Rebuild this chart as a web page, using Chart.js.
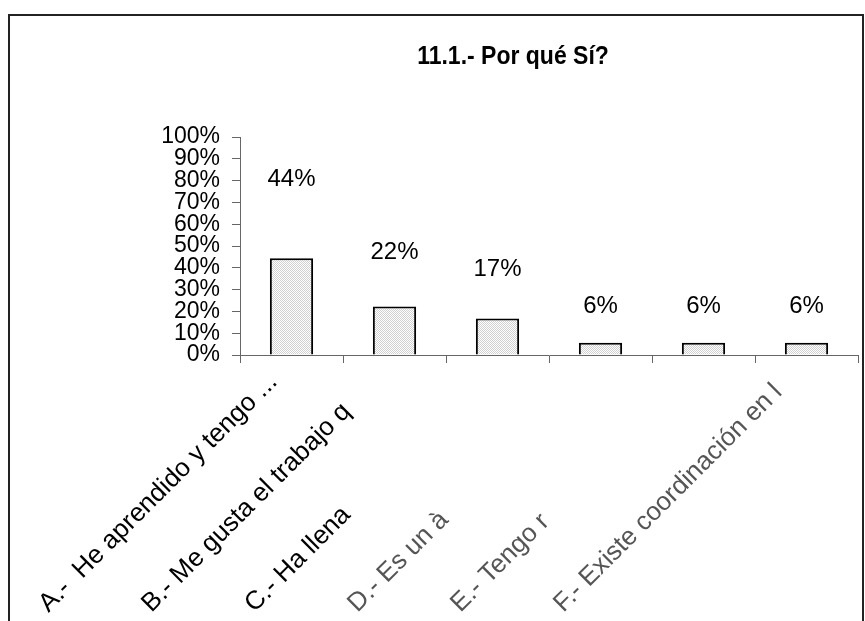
<!DOCTYPE html>
<html><head><meta charset="utf-8">
<script src="https://cdn.jsdelivr.net/npm/chart.js@4/dist/chart.umd.min.js"></script>
<style>
html,body{margin:0;padding:0;background:#fff;overflow:hidden}
#wrap{position:relative;width:865px;height:621px}
#frame{position:absolute;left:8px;top:14px;width:852px;height:700px;border:2px solid #222;}
canvas{position:absolute;left:0;top:0}
</style></head><body>
<div id="wrap"><div id="frame"></div><canvas id="c" width="865" height="621"></canvas></div>
<script>
const chartTitle = '11.1.- Por qué Sí?';
const categories = [
  'A.-  He aprendido y tengo ...',
  'B.- Me gusta el trabajo q',
  'C.- Ha llena',
  'D.- Es un à',
  'E.- Tengo r',
  'F.- Existe coordinación en l'
];
const values = [44.4, 22.2, 16.7, 5.6, 5.6, 5.6];
const valueLabels = ['44%', '22%', '17%', '6%', '6%', '6%'];
const yMin = 0, yMax = 100, yStep = 10;

const FONT = "'Liberation Sans', Arial, sans-serif";

// dotted fill pattern
const pc = document.createElement('canvas');
pc.width = 2; pc.height = 2;
const pctx = pc.getContext('2d');
pctx.fillStyle = '#ffffff'; pctx.fillRect(0, 0, 2, 2);
pctx.fillStyle = '#d0d0d0'; pctx.fillRect(0, 0, 1, 1); pctx.fillRect(1, 1, 1, 1);
const fillPattern = pctx.createPattern(pc, 'repeat');

const labelsPlugin = {
  id: 'labelsPlugin',
  afterDatasetsDraw(chart) {
    const ctx = chart.ctx;
    const xs = chart.scales.x, ys = chart.scales.y;
    const meta = chart.getDatasetMeta(0);
    ctx.save();
    // title (centred over the plot, slightly left as in the original)
    ctx.fillStyle = '#000';
    ctx.save();
    ctx.translate((chart.chartArea.left + chart.chartArea.right) / 2 - 36, 57);
    ctx.scale(0.92, 1);
    ctx.font = 'bold 25px ' + FONT;
    ctx.textAlign = 'center';
    ctx.textBaseline = 'middle';
    ctx.fillText(chartTitle, 0, 0);
    ctx.restore();
    // value labels
    ctx.font = '24px ' + FONT;
    ctx.textAlign = 'center';
    ctx.textBaseline = 'middle';
    meta.data.forEach((bar, i) => {
      const y = ys.getPixelForValue(values[i] * 1.5 + 14);
      ctx.fillText(valueLabels[i], bar.x, y);
    });
    // category labels (rotated 45°)
    ctx.font = '26px ' + FONT;
    ctx.textAlign = 'left';
    ctx.textBaseline = 'alphabetic';
    categories.forEach((c, i) => {
      const cx = xs.getPixelForValue(i);
      ctx.save();
      ctx.translate(cx - 243, chart.height - 8);
      ctx.rotate(-Math.PI / 4);
      ctx.fillStyle = i < 3 ? '#000' : '#555';
      ctx.fillText(c, 0, 0);
      ctx.restore();
    });
    ctx.restore();
  }
};

new Chart(document.getElementById('c'), {
  type: 'bar',
  data: {
    labels: categories,
    datasets: [{
      data: values,
      backgroundColor: fillPattern,
      borderColor: '#000',
      borderWidth: 2,
      barPercentage: 0.42,
      categoryPercentage: 1.0
    }]
  },
  options: {
    responsive: false,
    animation: false,
    devicePixelRatio: 1,
    layout: { padding: { left: 150, right: 7, top: 137, bottom: 0 } },
    plugins: {
      legend: { display: false },
      tooltip: { enabled: false },
      title: { display: false }
    },
    scales: {
      x: {
        offset: true,
        grid: { display: true, drawOnChartArea: false, offset: true, tickLength: 8, color: '#666', lineWidth: 1 },
        border: { display: true, color: '#666', width: 1 },
        ticks: { display: false },
        afterFit(s) { s.height = 266; }
      },
      y: {
        min: yMin, max: yMax,
        grid: { display: true, drawOnChartArea: false, tickLength: 8, color: '#666', lineWidth: 1 },
        border: { display: true, color: '#666', width: 1 },
        ticks: {
          stepSize: yStep,
          autoSkip: false,
          padding: 12,
          color: '#000',
          font: { family: FONT, size: 23, lineHeight: 1 },
          callback: v => v + '%'
        },
        afterFit(s) { s.width = 90; }
      }
    }
  },
  plugins: [labelsPlugin]
});
</script>
</body></html>
